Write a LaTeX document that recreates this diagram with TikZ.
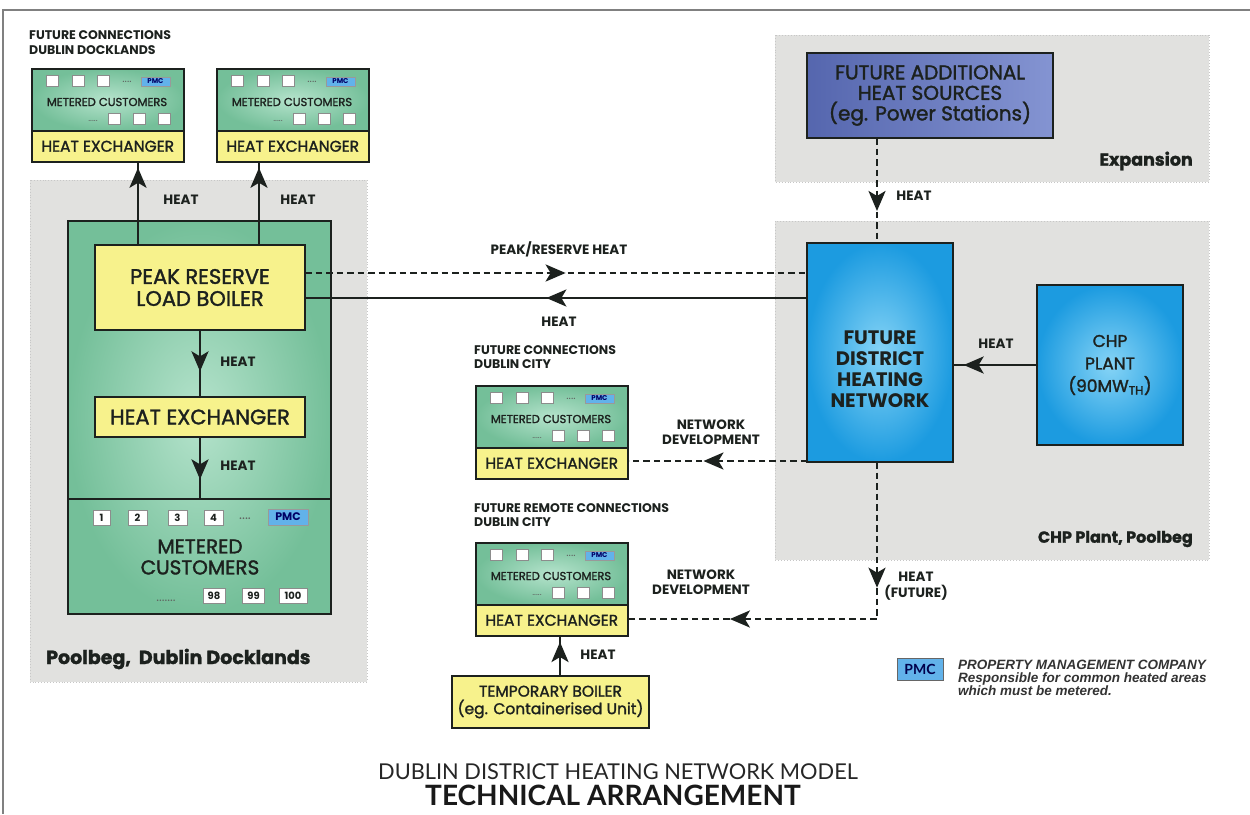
\documentclass[tikz,border=0pt]{standalone}
\usepackage{fontspec}
\setmainfont{Poppins}
\newfontfamily\med{Poppins}[FakeBold=1.6]
\newfontfamily\heavy{Poppins}[BoldFeatures={FakeBold=1.5}]
\newfontfamily\titlefont{Lato}
\newfontfamily\legfont{Liberation Sans}
\usetikzlibrary{arrows.meta,decorations.markings}
\definecolor{grn}{HTML}{74BF99}
\definecolor{grnl}{HTML}{B5E3CC}
\definecolor{yel}{HTML}{F7F28C}
\definecolor{blu}{HTML}{1C9BE0}
\definecolor{blul}{HTML}{86D4F6}
\definecolor{slate}{HTML}{5566AE}
\definecolor{slatel}{HTML}{8494D2}
\definecolor{reg}{HTML}{E1E1DF}
\definecolor{pmcc}{HTML}{62B2EA}
\definecolor{ink}{HTML}{1C211E}
\newcommand\fs[2]{\fontsize{#1}{#2}\selectfont}
\tikzset{
  region/.style={fill=reg, draw=black!22, dotted, line width=0.9pt},
  gbox/.style={draw=ink, line width=1.5pt, inner color=grnl, outer color=grn},
  ybox/.style={draw=ink, line width=1.5pt, fill=yel, text=ink, inner sep=0pt},
  bbox/.style={draw=ink, line width=1.5pt, inner color=blul, outer color=blu, inner sep=0pt},
  sq/.style={draw=black!45, line width=0.5pt, fill=white, minimum width=12pt, minimum height=11pt, inner sep=0pt},
  nsq/.style={draw=black!45, line width=0.5pt, fill=white, minimum height=15pt, inner sep=1.5pt, font=\bfseries\fs{10}{12}, text=ink},
  pmcs/.style={draw=black!40, line width=0.4pt, fill=pmcc, inner sep=0.8pt, minimum width=29pt, minimum height=9pt, font=\bfseries\fs{7}{8}, text=blue!40!black},
  txt/.style={text=ink, inner sep=0pt, align=center},
  lab/.style={text=ink, inner sep=0pt, align=center, font=\bfseries\fs{13.5}{15.5}},
  flow/.style={draw=ink, line width=2.6pt},
  dflow/.style={draw=ink, line width=2.6pt, dash pattern=on 6.5pt off 4pt},
  marr/.style={postaction={decorate, decoration={markings, mark=at position #1 with {\arrow{Stealth[length=20pt,width=17pt,inset=5pt]}}}}},
  custbox/.pic={
    \node[gbox, minimum width=152pt, minimum height=62pt, anchor=north west] (-g) at (0,0) {};
    \node[ybox, minimum width=152pt, minimum height=31pt, anchor=north west, font=\med\fs{15.5}{17}] (-hx) at (0,62) {HEAT EXCHANGER};
    \foreach \xx in {21,47,72} \node[sq] at (\xx,12.5) {};
    \node[txt, font=\fs{11}{11}, text=ink!70] at (96,14) {....};
    \node[pmcs] at (124.5,13.5) {PMC};
    \node[txt, font=\med\fs{11.5}{12}] at (76,34) {METERED CUSTOMERS};
    \foreach \xx in {83,108,133} \node[sq] at (\xx,50.5) {};
    \node[txt, font=\fs{9}{9}, text=ink!70] at (62,53) {.....};
  }
}
\begin{document}
\begin{tikzpicture}[x=1pt, y=-1pt]
\useasboundingbox (0,0) rectangle (1250,814);
\fill[white] (0,0) rectangle (1250,814);
\draw[black!50, line width=1.6pt] (1250,10) -- (3,10) -- (3,814);

% regions
\path[region] (30,180) rectangle (367,682);
\path[region] (775,35) rectangle (1209,182);
\path[region] (775,221) rectangle (1209,560);

% region labels
\node[txt, anchor=west, font=\heavy\bfseries\fs{19}{21}] (lpool) at (46,659) {Poolbeg,\ \ Dublin Docklands};
\node[txt, anchor=east, font=\heavy\bfseries\fs{17.5}{20}] (lexp) at (1193,161) {Expansion};
\node[txt, anchor=east, font=\heavy\bfseries\fs{16}{18}] (lchp) at (1193,539) {CHP Plant, Poolbeg};

% top-left future connections
\node[txt, anchor=north west, align=left, font=\bfseries\fs{12.5}{15}] (capdock) at (29,30) {FUTURE CONNECTIONS\\DUBLIN DOCKLANDS};
\pic (cb1) at (31,68) {custbox};
\pic (cb2) at (216,68) {custbox};

% big green block
\node[gbox, minimum width=263pt, minimum height=393pt, anchor=north west] (blk) at (67,220) {};
\coordinate (divl) at (67,499);
\coordinate (divr) at (330,499);
\draw[ink, line width=1.5pt] (divl) -- (divr);
\node[ybox, minimum width=210pt, minimum height=85pt, align=center, font=\med\fs{21}{22}] (pb) at (200,287.5) {PEAK RESERVE\\LOAD BOILER};
\node[ybox, minimum width=210pt, minimum height=40pt, font=\med\fs{21}{22}] (lhx) at (200,417) {HEAT EXCHANGER};

% numbered customers
\node[nsq, minimum width=17pt] (n1) at (101.5,517.5) {1};
\node[nsq, minimum width=19pt] (n2) at (137.5,517.5) {2};
\node[nsq, minimum width=19pt] (n3) at (177.5,517.5) {3};
\node[nsq, minimum width=19pt] (n4) at (213.5,517.5) {4};
\node[txt, font=\fs{14}{14}, text=ink!70] (dots1) at (245,519) {....};
\node[draw=black!40, line width=0.4pt, fill=pmcc, minimum width=40pt, minimum height=16pt, inner sep=0pt, font=\bfseries\fs{11}{12}, text=blue!40!black] (bpmc) at (288,517) {PMC};
\node[txt, font=\med\fs{20}{21}] (mc) at (200,557) {METERED\\CUSTOMERS};
\node[txt, font=\fs{13}{13}, text=ink!70] (dots2) at (166,601) {.......};
\node[nsq, minimum width=22pt] (n98) at (214,596) {98};
\node[nsq, minimum width=22pt] (n99) at (253.5,596) {99};
\node[nsq, minimum width=28pt] (n100) at (293,596) {100};

% left arrows
\coordinate (up1) at (138,162);
\coordinate (up2) at (259,162);
\draw[flow, marr=0.93] (pb.north -| up1) -- (up1);
\draw[flow, marr=0.93] (pb.north -| up2) -- (up2);
\node[lab] (h1) at (181,200) {HEAT};
\node[lab] (h2) at (298,200) {HEAT};
\draw[flow, marr=0.62] (pb.south) -- (lhx.north);
\node[lab] (h3) at (238,362) {HEAT};
\draw[flow, marr=0.68] (lhx.south) -- (lhx.south |- divl);
\node[lab] (h4) at (238,466) {HEAT};

% expansion: heat sources
\node[draw=ink, line width=1.5pt, left color=slate, right color=slatel, minimum width=246pt, minimum height=85pt, txt, font=\med\fs{20}{20.5}] (hs) at (930,95.5) {FUTURE ADDITIONAL\\HEAT SOURCES\\(eg. Power Stations)};

% network and CHP
\node[bbox, minimum width=146pt, minimum height=219pt] (net) at (880,352.5) {};
\node[txt, font=\bfseries\fs{19.5}{21}] (nettxt) at (880,369) {FUTURE\\DISTRICT\\HEATING\\NETWORK};
\node[bbox, minimum width=146pt, minimum height=160pt] (chp) at (1110,365) {};
\node[txt, font=\med\fs{17}{22.5}] (chptxt) at (1110,365) {CHP\\PLANT\\(90MW\textsubscript{TH})};

\coordinate (v1) at (877,138);
\draw[dflow, marr=0.7] (v1) -- (v1 |- net.north);
\node[lab] (h5) at (914,196) {HEAT};

\coordinate (d1) at (305,273);
\coordinate (d2) at (807,298);
\draw[dflow, marr=0.52] (d1) -- (d1 -| net.west);
\node[lab] (lpr) at (559,249) {PEAK/RESERVE HEAT};
\draw[flow, marr=0.52] (d2) -- (d2 -| pb.east);
\node[lab] (h6) at (559,322) {HEAT};

\draw[flow, marr=0.88] (chp.west) -- (chp.west -| net.east);
\node[lab] (h7) at (996,344) {HEAT};

% middle future connections
\node[txt, anchor=north west, align=left, font=\bfseries\fs{12.5}{14}] (capcity) at (474,345) {FUTURE CONNECTIONS\\DUBLIN CITY};
\pic (cbm) at (475,385) {custbox};
\coordinate (d3) at (807,461);
\draw[dflow, marr=0.58] (d3) -- (d3 -| cbm-hx.east);
\node[lab] (nd1) at (711,432) {NETWORK\\DEVELOPMENT};

% remote connections
\node[txt, anchor=north west, align=left, font=\bfseries\fs{12.5}{14}] (caprem) at (474,503) {FUTURE REMOTE CONNECTIONS\\DUBLIN CITY};
\pic (cbr) at (475,542) {custbox};
\coordinate (v2) at (877,462);
\coordinate (c2) at (877,619);
\draw[dflow, marr=0.31, marr=0.75] (v2) -- (c2) -- (c2 -| cbr-hx.east);
\node[lab] (hf) at (916,586) {HEAT\\(FUTURE)};
\node[lab] (nd2) at (701,582) {NETWORK\\DEVELOPMENT};

% temporary boiler
\node[ybox, minimum width=197pt, minimum height=52pt, align=center, font=\med\fs{15.5}{17.5}] (tb) at (550.5,702) {TEMPORARY BOILER\\(eg. Containerised Unit)};
\coordinate (t1) at (560,676);
\draw[flow, marr=0.86] (t1) -- (t1 |- cbr-hx.south);
\node[lab] (h8) at (598,655) {HEAT};

% legend
\node[draw=black!60, line width=0.5pt, fill=pmcc, minimum width=46pt, minimum height=22pt, inner sep=0pt, font=\titlefont\bfseries\fs{14}{15}, text=blue!30!black] (lpmc) at (920,669) {PMC};
\node[txt, anchor=north west, align=left, font=\legfont\bfseries\itshape\fs{13.5}{12.8}, text=black!80] (legtxt) at (958,660) {PROPERTY MANAGEMENT COMPANY\\Responsible for common heated areas\\which must be metered.};

% title
\node[txt, font=\titlefont\fs{21.8}{23}, text=black!85] (t1txt) at (618,772) {DUBLIN DISTRICT HEATING NETWORK MODEL};
\node[txt, font=\titlefont\bfseries\fs{28}{30}, text=black!90] (t2txt) at (613,795) {TECHNICAL ARRANGEMENT};
\end{tikzpicture}
\end{document}
